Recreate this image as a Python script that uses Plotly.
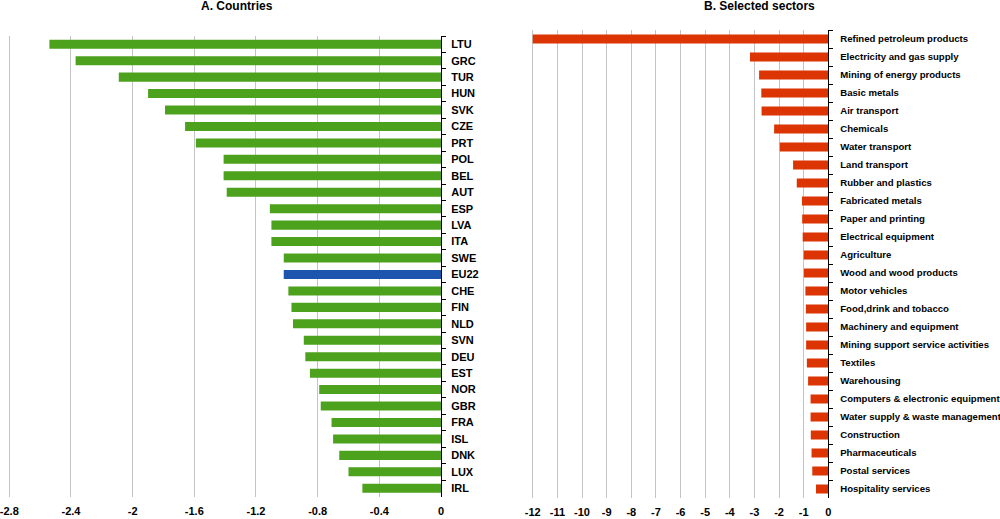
import plotly.graph_objects as go

# ---- Data ----
countries = ["LTU", "GRC", "TUR", "HUN", "SVK", "CZE", "PRT", "POL", "BEL", "AUT",
             "ESP", "LVA", "ITA", "SWE", "EU22", "CHE", "FIN", "NLD", "SVN", "DEU",
             "EST", "NOR", "GBR", "FRA", "ISL", "DNK", "LUX", "IRL"]
country_values = [-2.54, -2.37, -2.09, -1.90, -1.79, -1.66, -1.59, -1.41, -1.41, -1.39,
                  -1.11, -1.10, -1.10, -1.02, -1.02, -0.99, -0.97, -0.96, -0.89, -0.88,
                  -0.85, -0.79, -0.78, -0.71, -0.70, -0.66, -0.60, -0.51]

sectors = ["Refined petroleum products", "Electricity and gas supply", "Mining of energy products",
           "Basic metals", "Air transport", "Chemicals", "Water transport", "Land transport",
           "Rubber and plastics", "Fabricated metals", "Paper and printing", "Electrical equipment",
           "Agriculture", "Wood and wood products", "Motor vehicles", "Food,drink and tobacco",
           "Machinery and equipment", "Mining support service activities", "Textiles",
           "Warehousing", "Computers & electronic equipment", "Water supply & waste management",
           "Construction", "Pharmaceuticals", "Postal services", "Hospitality services"]
sector_values = [-12.0, -3.18, -2.81, -2.72, -2.71, -2.20, -1.97, -1.43, -1.28, -1.07,
                 -1.06, -1.04, -1.00, -0.99, -0.93, -0.91, -0.90, -0.90, -0.87, -0.82,
                 -0.72, -0.72, -0.71, -0.68, -0.65, -0.50]

left_tickvals = [-2.8, -2.4, -2.0, -1.6, -1.2, -0.8, -0.4, 0]
left_ticktext = ["-2.8", "-2.4", "-2", "-1.6", "-1.2", "-0.8", "-0.4", "0"]
right_tickvals = [-12, -11, -10, -9, -8, -7, -6, -5, -4, -3, -2, -1, 0]
right_ticktext = ["-12", "-11", "-10", "-9", "-8", "-7", "-6", "-5", "-4", "-3", "-2", "-1", "0"]

titles = ["A. Countries", "B. Selected sectors"]

# ---- Style ----
GREEN = "#4ca21c"
BLUE = "#1c55ad"
RED = "#dc3402"
GRID = "#c4c4c4"
FONT = "Liberation Sans, Arial, sans-serif"

W, H = 1000, 519

def px_x(p):
    return p / W

def px_y(p):
    return 1 - p / H

fig = go.Figure()

fig.add_trace(go.Bar(
    x=country_values, y=countries, orientation="h",
    marker=dict(color=[BLUE if c == "EU22" else GREEN for c in countries], line=dict(width=0)),
    width=0.55, xaxis="x", yaxis="y", showlegend=False, hoverinfo="x+y"))

fig.add_trace(go.Bar(
    x=sector_values, y=sectors, orientation="h",
    marker=dict(color=RED, line=dict(width=0)),
    width=0.5, xaxis="x2", yaxis="y2", showlegend=False, hoverinfo="x+y"))

xcommon = dict(showgrid=True, gridcolor=GRID, gridwidth=1, zeroline=False, showline=False,
               ticks="", tickmode="array", automargin=False, ticklabelstandoff=6,
               ticklabeloverflow="allow",
               tickfont=dict(family=FONT, size=11, color="black", weight="bold"))
ycommon = dict(type="category", autorange="reversed", side="right", showgrid=False,
               zeroline=False, showline=True, linecolor="black", linewidth=1,
               ticks="outside", ticklen=4, tickcolor="black", tickson="boundaries",
               automargin=False)

fig.update_layout(
    width=W, height=H,
    margin=dict(l=0, r=0, t=0, b=0),
    paper_bgcolor="white", plot_bgcolor="white",
    template="none",
    xaxis=dict(domain=[px_x(7), px_x(441)], range=[-2.815, 0], anchor="y",
               tickvals=left_tickvals, ticktext=left_ticktext, **xcommon),
    yaxis=dict(domain=[px_y(496.5), px_y(36)], anchor="x", ticklabelstandoff=7,
               tickfont=dict(family=FONT, size=11, color="black", weight="bold"), **ycommon),
    xaxis2=dict(domain=[px_x(530.8), px_x(828.3)], range=[-12.08, 0], anchor="y2",
                tickvals=right_tickvals, ticktext=right_ticktext, **xcommon),
    yaxis2=dict(domain=[px_y(498), px_y(30)], anchor="x2", ticklabelstandoff=9,
                tickfont=dict(family=FONT, size=9.6, color="black", weight="bold"), **ycommon),
    annotations=[
        dict(text="<b>%s</b>" % titles[0], x=px_x(237), y=px_y(6), xref="paper", yref="paper",
             showarrow=False, xanchor="center", yanchor="middle",
             font=dict(family=FONT, size=12, color="black")),
        dict(text="<b>%s</b>" % titles[1], x=px_x(759), y=px_y(6), xref="paper", yref="paper",
             showarrow=False, xanchor="center", yanchor="middle",
             font=dict(family=FONT, size=12, color="black")),
    ],
)

fig.write_html("out.html", config={"displayModeBar": False},
               post_script="document.body.style.margin='0';document.body.style.overflow='hidden';")
